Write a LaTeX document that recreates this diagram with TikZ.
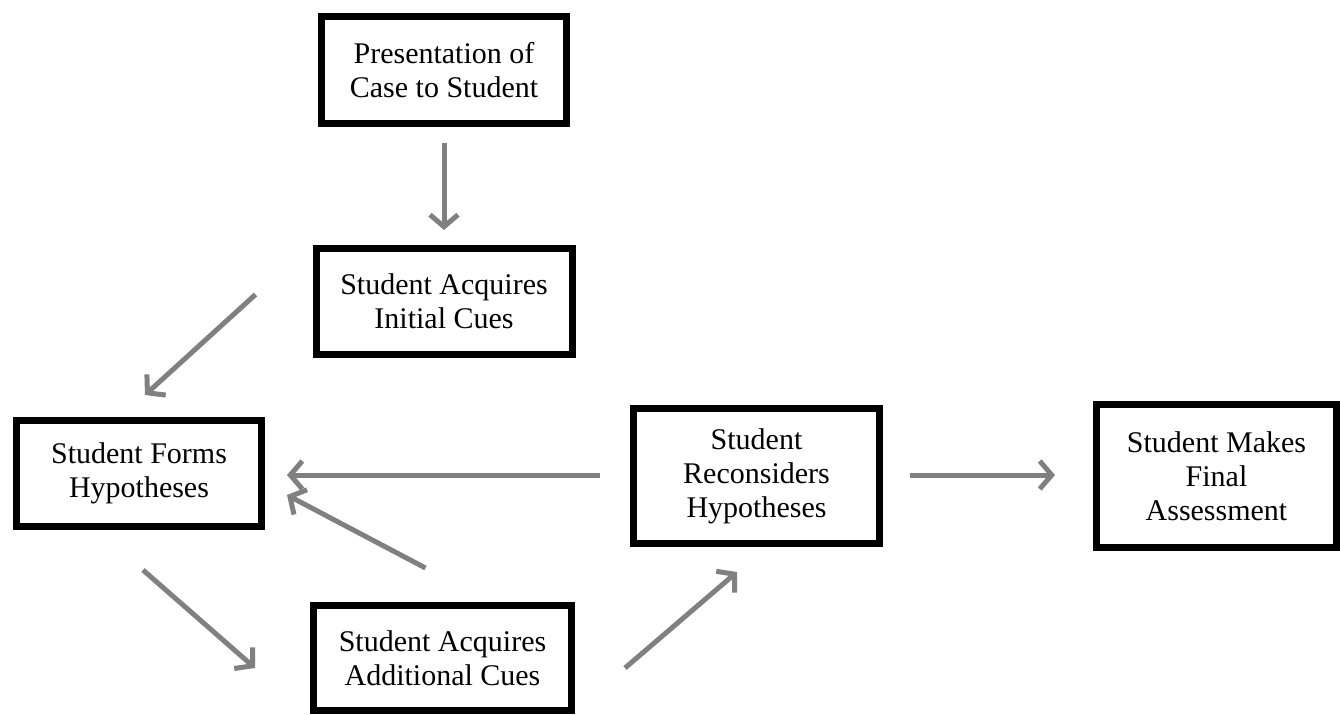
\documentclass[tikz,border=0pt]{standalone}
\usepackage{fontspec}
\setmainfont{Liberation Serif}
\usetikzlibrary{arrows.meta,calc}
\usetikzlibrary{positioning}

\begin{document}
\begin{tikzpicture}[x=0.5pt,y=-0.5pt]

		    \definecolor{flowgray}{rgb}{0.50,0.50,0.50}
		    \tikzset{stage/.style={draw,line width=3.5pt,align=center,inner sep=0pt,font=\fontsize{15}{17}\selectfont},
		             flow/.style={-{Straight Barb[length=6pt,width=14pt,line width=2.5pt]},line width=2.5pt,draw=flowgray}}
		    \useasboundingbox (0,0) rectangle (1340,714);

		    \node(pres) [stage,minimum width=122.5pt,minimum height=53.5pt] at (444,70) {Presentation of\\Case to Student};
		    \node(ini) [below=59pt of pres,stage,minimum width=128pt,minimum height=53pt] {Student Acquires\\Initial Cues};
		    \node(hyp) [stage,minimum width=122.5pt,minimum height=53pt] at (139,473.5) {Student Forms\\Hypotheses};
		    \node(recon) [stage,minimum width=123pt,minimum height=67.5pt] at (756.5,476) {Student\\Reconsiders\\Hypotheses};
		    \node(final) [right=105pt of recon,stage,minimum width=120pt,minimum height=71.5pt] {Student Makes\\Final\\Assessment};
		    \node(add) [stage,minimum width=129pt,minimum height=52.5pt] at (442.5,658) {Student Acquires\\Additional Cues};

		    \draw[flow,shorten <=8pt,shorten >=7.5pt] (pres.south) -- (ini.north);
		    \draw[flow] ($(ini.west)+(-57,-7)$) -- ($(hyp.north)+(6,-22)$);
		    \draw[flow] ($(hyp.south)+(4,40)$) -- ($(add.west)+(-55,10)$);
		    \draw[flow] ($(add.north)+(-17,-34)$) -- ($(hyp.east)+(22,21.5)$);
		    \draw[flow] ($(recon.west)+(-30,-1)$) -- ($(hyp.east)+(22,1.5)$);
		    \draw[flow] ($(add.east)+(50,10)$) -- ($(recon.south)+(-19.5,25)$);
		    \draw[flow] ($(recon.east)+(27,-1)$) -- ($(final.west)+(-38,-1)$);

\end{tikzpicture}
\end{document}
